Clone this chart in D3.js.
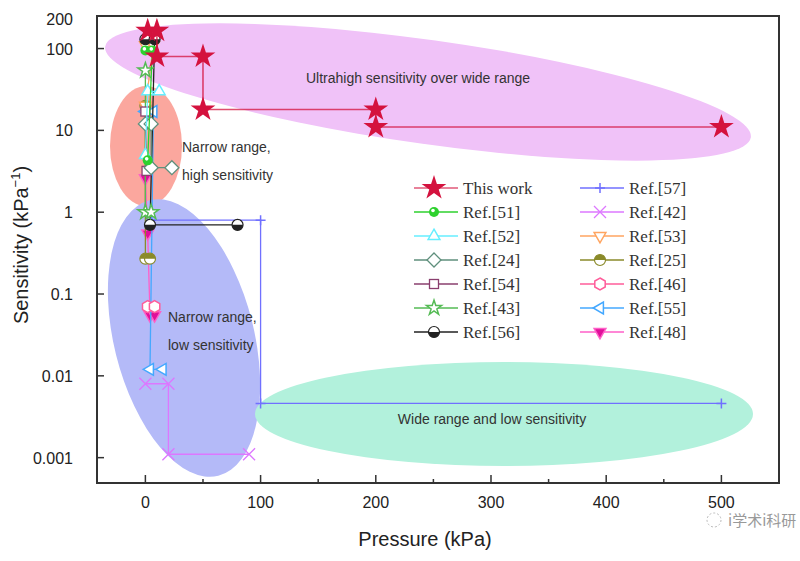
<!DOCTYPE html>
<html>
<head>
<meta charset="utf-8">
<script src="https://cdn.jsdelivr.net/npm/d3@7"></script>
<style>
  body { margin: 0; background: #fff; }
  text { font-family: "Liberation Sans", Arial, sans-serif; }
</style>
</head>
<body>
<div id="plot"></div>
<script>
// data: [pressure kPa, sensitivity kPa^-1]
const thisWork = [[2, 165], [10, 165], [10, 80], [50, 80], [50, 18], [200, 18], [200, 11], [500, 11]];
const ref51 = [[0, 95], [6, 95], [2, 4.3]];
const ref52 = [[12, 30], [2, 30], [0, 5]];
const ref24 = [[0, 12], [5, 12], [5, 3.5], [23, 3.5]];
const ref54 = [[0, 17], [1, 3.2]];
const ref43 = [[0, 54], [0, 1.0], [5, 1.0]];
const ref56 = [[0, 130], [8, 130], [4, 0.7], [80, 0.7]];
const ref57 = [[5, 0.8], [100, 0.8], [100, 0.0046], [500, 0.0046]];
const ref42 = [[0, 0.008], [20, 0.008], [20, 0.0011], [90, 0.0011]];
const ref53 = [[0, 110], [7, 110], [0, 20]];
const ref25 = [[0, 20], [0, 0.27], [4, 0.27]];
const ref46 = [[2, 0.07], [8, 0.07]];
const ref55 = [[0, 17], [7, 17], [4, 0.012], [15, 0.012]];
const ref48 = [[0, 2.6], [2, 0.55], [4, 0.055], [8, 0.055]];

const seriesNames = ["This work", "Ref.[51]", "Ref.[52]", "Ref.[24]", "Ref.[54]", "Ref.[43]", "Ref.[56]",
                     "Ref.[57]", "Ref.[42]", "Ref.[53]", "Ref.[25]", "Ref.[46]", "Ref.[55]", "Ref.[48]"];
const seriesData = [thisWork, ref51, ref52, ref24, ref54, ref43, ref56,
                    ref57, ref42, ref53, ref25, ref46, ref55, ref48];
const seriesColors = ["#d4123e", "#2ed12e", "#66eeff", "#5f8f7c", "#8a3f6e", "#55bb55", "#222222",
                      "#7070ff", "#dd77ff", "#ffa560", "#8a8a2a", "#ff5c9a", "#44a8ff", "#ff5fc8"];
const seriesMarkers = ["star", "ballFilled", "triUp", "diamond", "square", "starOpen", "halfBottom",
                       "plus", "times", "triDown", "halfTop", "hexagon", "triLeft", "triDownFilled"];

const xTicks = [0, 100, 200, 300, 400, 500];
const xMinorTicks = [50, 150, 250, 350, 450];
const yTicks = [0.001, 0.01, 0.1, 1, 10, 100];
const yTickLabels = ["0.001", "0.01", "0.1", "1", "10", "100"];

const width = 800;
const height = 561;
const plotLeft = 97, plotRight = 779, plotTop = 16, plotBottom = 483;

const svg = d3.select("div#plot")
  .append("svg")
  .attr("width", width)
  .attr("height", height);

const x = d3.scaleLinear().domain([-42, 550]).range([plotLeft, plotRight]);
const y = d3.scaleLog().domain([0.00049, 250]).range([plotBottom, plotTop]);

// background ellipses
const blobs = svg.append("g");
blobs.append("ellipse")
  .attr("rx", 326).attr("ry", 52)
  .attr("transform", "translate(428,92) rotate(8)")
  .attr("fill", "#f0c2f8");
blobs.append("ellipse")
  .attr("rx", 36).attr("ry", 60)
  .attr("transform", "translate(146,146)")
  .attr("fill", "#fba79e");
blobs.append("ellipse")
  .attr("rx", 70).attr("ry", 142)
  .attr("transform", "translate(184,338) rotate(-14)")
  .attr("fill", "#b4baf8");
blobs.append("ellipse")
  .attr("rx", 249).attr("ry", 52)
  .attr("transform", "translate(504,414)")
  .attr("fill", "#b2f1dc");

// region labels
const notes = svg.append("g").style("font-size", "14px").attr("fill", "#333");
notes.append("text").attr("x", 418).attr("y", 83).attr("text-anchor", "middle").text("Ultrahigh sensitivity over wide range");
notes.append("text").attr("x", 182).attr("y", 152).text("Narrow range,");
notes.append("text").attr("x", 182).attr("y", 180).text("high sensitivity");
notes.append("text").attr("x", 168).attr("y", 322).text("Narrow range,");
notes.append("text").attr("x", 168).attr("y", 350).text("low sensitivity");
notes.append("text").attr("x", 492).attr("y", 424).attr("text-anchor", "middle").text("Wide range and low sensitivity");

// marker drawing
function drawMarker(g, type, color) {
  const tri = d3.symbol().type(d3.symbolTriangle).size(60)();
  if (type === "star") {
    g.append("path").attr("d", d3.symbol().type(d3.symbolStar).size(190)()).attr("fill", color);
  } else if (type === "starOpen") {
    g.append("path").attr("d", d3.symbol().type(d3.symbolStar).size(70)())
      .attr("fill", "#fff").attr("stroke", color).attr("stroke-width", 1.5);
  } else if (type === "ballFilled") {
    g.append("circle").attr("r", 5).attr("fill", color);
    g.append("circle").attr("r", 1.8).attr("cx", -1).attr("cy", -1.5).attr("fill", "#fff");
  } else if (type === "triUp") {
    g.append("path").attr("d", tri).attr("fill", "#fff").attr("stroke", color).attr("stroke-width", 1.5);
  } else if (type === "triDown") {
    g.append("path").attr("d", tri).attr("transform", "rotate(180)")
      .attr("fill", "#fff").attr("stroke", color).attr("stroke-width", 1.5);
  } else if (type === "triLeft") {
    g.append("path").attr("d", tri).attr("transform", "rotate(-90)")
      .attr("fill", "#fff").attr("stroke", color).attr("stroke-width", 1.5);
  } else if (type === "triDownFilled") {
    g.append("path").attr("d", tri).attr("transform", "rotate(180)")
      .attr("fill", "#e0109a").attr("stroke", color).attr("stroke-width", 1.5);
  } else if (type === "diamond") {
    g.append("path").attr("d", "M0,-7L7,0L0,7L-7,0Z")
      .attr("fill", "#fff").attr("stroke", color).attr("stroke-width", 1.3);
  } else if (type === "square") {
    g.append("rect").attr("x", -4.5).attr("y", -4.5).attr("width", 9).attr("height", 9)
      .attr("fill", "#fff").attr("stroke", color).attr("stroke-width", 1.3);
  } else if (type === "plus") {
    g.append("path").attr("d", "M-5,0H5M0,-5V5").attr("stroke", color).attr("stroke-width", 1.5);
  } else if (type === "times") {
    g.append("path").attr("d", "M-6,-6L6,6M-6,6L6,-6").attr("stroke", color).attr("stroke-width", 1.3);
  } else if (type === "hexagon") {
    const pts = d3.range(6).map(i => {
      const a = Math.PI / 3 * i - Math.PI / 2;
      return [6 * Math.cos(a), 6 * Math.sin(a)];
    });
    g.append("path").attr("d", "M" + pts.join("L") + "Z")
      .attr("fill", "#fff").attr("stroke", color).attr("stroke-width", 1.5);
  } else if (type === "halfBottom" || type === "halfTop") {
    const r = 5.5;
    g.append("circle").attr("r", r).attr("fill", "#fff").attr("stroke", color).attr("stroke-width", 1.2);
    const half = type === "halfBottom"
      ? `M${-r},0A${r},${r} 0 0 0 ${r},0Z`
      : `M${-r},0A${r},${r} 0 0 1 ${r},0Z`;
    g.append("path").attr("d", half).attr("fill", color);
  }
}

// series lines and markers (draw in reverse so "This work" ends on top)
const line = d3.line().x(d => x(d[0])).y(d => y(d[1]));
const plot = svg.append("g");
d3.range(seriesData.length).reverse().forEach(i => {
  const g = plot.append("g");
  g.append("path")
    .attr("d", line(seriesData[i]))
    .attr("fill", "none")
    .attr("stroke", seriesColors[i])
    .attr("stroke-width", i === 0 ? 1.6 : 1.3)
    .attr("stroke-opacity", i === 0 ? 0.75 : 1);
  seriesData[i].forEach(d => {
    const m = g.append("g").attr("transform", `translate(${x(d[0])},${y(d[1])})`);
    drawMarker(m, seriesMarkers[i], seriesColors[i]);
  });
});

// frame and ticks
svg.append("rect")
  .attr("x", plotLeft).attr("y", plotTop)
  .attr("width", plotRight - plotLeft).attr("height", plotBottom - plotTop)
  .attr("fill", "none").attr("stroke", "#333").attr("stroke-width", 2);

const axes = svg.append("g").attr("stroke", "#333").attr("stroke-width", 1.5);
xTicks.forEach(t => axes.append("line").attr("x1", x(t)).attr("x2", x(t)).attr("y1", plotBottom).attr("y2", plotBottom - 8));
xMinorTicks.forEach(t => axes.append("line").attr("x1", x(t)).attr("x2", x(t)).attr("y1", plotBottom).attr("y2", plotBottom - 4));
yTicks.forEach(t => axes.append("line").attr("x1", plotLeft).attr("x2", plotLeft + 7).attr("y1", y(t)).attr("y2", y(t)));

const labels = svg.append("g").attr("fill", "#222").style("font-size", "16px");
xTicks.forEach(t => labels.append("text")
  .attr("x", x(t)).attr("y", plotBottom + 25).attr("text-anchor", "middle").text(t));
yTicks.forEach((t, i) => labels.append("text")
  .attr("x", 73).attr("y", y(t) + 6).attr("text-anchor", "end").text(yTickLabels[i]));
labels.append("text").attr("x", 73).attr("y", 25).attr("text-anchor", "end").text("200");

svg.append("text")
  .attr("x", 425).attr("y", 546)
  .attr("text-anchor", "middle")
  .style("font-size", "20px").attr("fill", "#222")
  .text("Pressure (kPa)");

const yl = svg.append("text")
  .attr("transform", "translate(28,245) rotate(-90)")
  .attr("text-anchor", "middle")
  .style("font-size", "20px").attr("fill", "#222");
yl.append("tspan").text("Sensitivity (kPa");
yl.append("tspan").attr("dy", -8).style("font-size", "13px").text("−1");
yl.append("tspan").attr("dy", 8).text(")");

// legend
const legend = svg.append("g");
seriesNames.forEach((name, i) => {
  const col = i < 7 ? 0 : 1;
  const row = i % 7;
  const lx = col === 0 ? 414 : 580;
  const ly = 188 + row * 24;
  const g = legend.append("g");
  g.append("line").attr("x1", lx).attr("x2", lx + 44).attr("y1", ly).attr("y2", ly)
    .attr("stroke", seriesColors[i]).attr("stroke-width", 1.5).attr("stroke-opacity", i === 0 ? 0.7 : 1);
  const m = g.append("g").attr("transform", `translate(${lx + 20},${ly})`);
  drawMarker(m, seriesMarkers[i], seriesColors[i]);
  g.append("text").attr("x", lx + 49).attr("y", ly + 6)
    .style("font-family", "'Liberation Serif', 'Times New Roman', serif")
    .style("font-size", "17px").attr("fill", "#333").text(name);
});

// watermark
const wm = svg.append("g").attr("fill", "#999");
wm.append("circle").attr("cx", 714).attr("cy", 520).attr("r", 7).attr("fill", "none").attr("stroke", "#bbb").attr("stroke-dasharray", "2,2");
wm.append("text").attr("x", 728).attr("y", 526).style("font-size", "15px")
  .style("font-family", "'Noto Sans CJK SC', sans-serif").text("i学术i科研");
</script>
</body>
</html>
